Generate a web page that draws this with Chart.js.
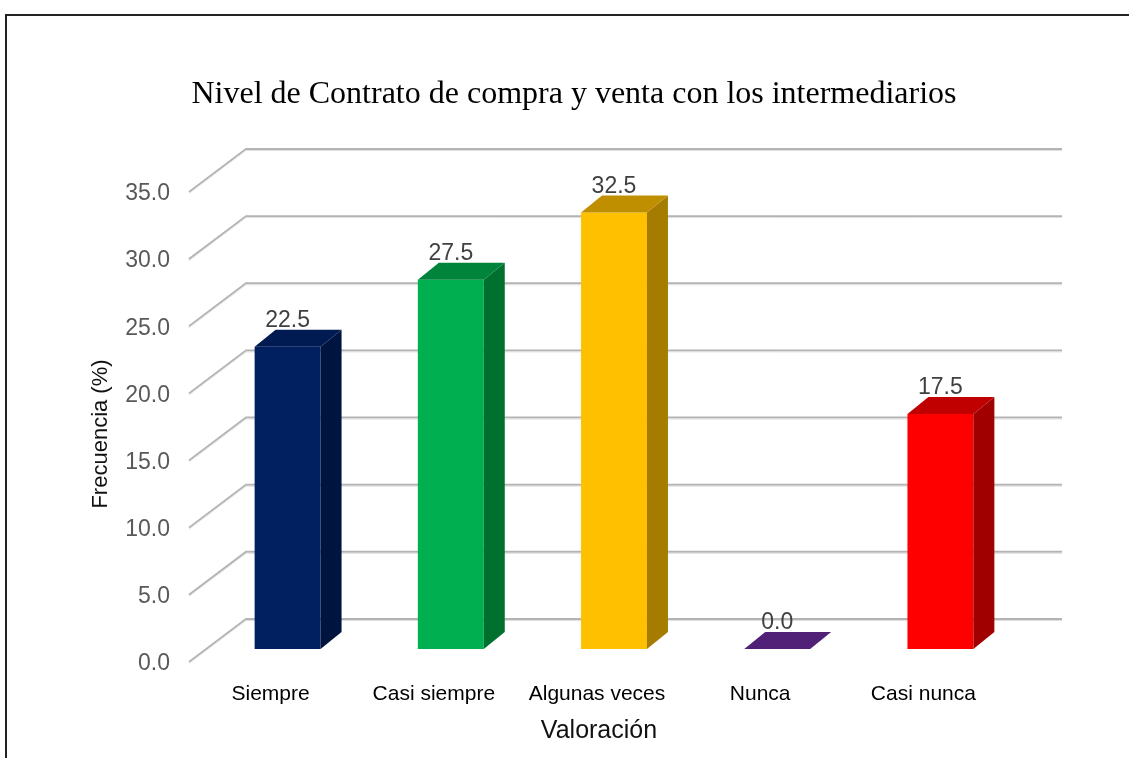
<!DOCTYPE html>
<html>
<head>
<meta charset="utf-8">
<script src="https://cdn.jsdelivr.net/npm/chart.js@4.4.1/dist/chart.umd.min.js"></script>
<style>
  body { margin: 0; background: #fff; }
  canvas { display: block; }
</style>
</head>
<body>
<canvas id="bar-chart" width="1129" height="758"></canvas>
<script>
var categorias = ["Siempre", "Casi siempre", "Algunas veces", "Nunca", "Casi nunca"];
var frecuencia = [22.5, 27.5, 32.5, 0.0, 17.5];
var yTicks = [0, 5, 10, 15, 20, 25, 30, 35];

var frente = ["#002060", "#00b050", "#ffc000", "#512178", "#ff0000"];
var lado   = ["#001440", "#00702f", "#a67c00", "#3a1657", "#a00000"];
var arriba = ["#001a52", "#00843b", "#c08f00", "#512178", "#c00000"];

// desplazamientos de la perspectiva
var DX = 17, DY = 13;      // plano frontal respecto al de las barras
var BX = 40, BY = 30;      // pared del fondo
var PX = 21, PY = 17;      // profundidad de cada barra

var sans = "'Liberation Sans', Arial, sans-serif";

var efecto3d = {
  id: 'efecto3d',
  beforeDatasetsDraw: function(chart) {
    var ctx = chart.ctx, y = chart.scales.y, a = chart.chartArea;
    ctx.save();
    yTicks.forEach(function(v) {
      var py = y.getPixelForValue(v);
      [[2, "#b4b4b4", 0], [1, "#e0e0e0", 1.5]].forEach(function(s) {
        ctx.lineWidth = s[0];
        ctx.strokeStyle = s[1];
        ctx.beginPath();
        ctx.moveTo(a.left - DX, py + DY + s[2]);
        ctx.lineTo(a.left + BX, py - BY + s[2]);
        ctx.lineTo(a.right + BX, py - BY + s[2]);
        ctx.stroke();
      });
    });
    ctx.restore();
  },
  afterDatasetsDraw: function(chart) {
    var ctx = chart.ctx;
    var meta = chart.getDatasetMeta(0);
    ctx.save();
    meta.data.forEach(function(bar, i) {
      var w = bar.width / 2;
      var x0 = bar.x - w, x1 = bar.x + w, top = bar.y, base = bar.base;
      // lado
      ctx.fillStyle = lado[i];
      ctx.beginPath();
      ctx.moveTo(x1, top);
      ctx.lineTo(x1 + PX, top - PY);
      ctx.lineTo(x1 + PX, base - PY);
      ctx.lineTo(x1, base);
      ctx.closePath();
      ctx.fill();
      // tapa
      ctx.fillStyle = arriba[i];
      ctx.beginPath();
      ctx.moveTo(x0, top);
      ctx.lineTo(x0 + PX, top - PY);
      ctx.lineTo(x1 + PX, top - PY);
      ctx.lineTo(x1, top);
      ctx.closePath();
      ctx.fill();
      // etiqueta de dato
      ctx.fillStyle = "#404040";
      ctx.font = "23px " + sans;
      ctx.textAlign = "center";
      ctx.textBaseline = "middle";
      ctx.fillText(frecuencia[i].toFixed(1), bar.x, top - 26);
    });
    ctx.restore();
  },
  afterDraw: function(chart) {
    var ctx = chart.ctx;
    ctx.save();
    // titulo
    ctx.fillStyle = "#000";
    ctx.font = "32px 'Liberation Serif', 'Times New Roman', serif";
    ctx.textAlign = "center";
    ctx.textBaseline = "alphabetic";
    ctx.fillText("Nivel de Contrato de compra y venta con los intermediarios", 574, 103);
    // titulo eje x
    ctx.font = "25px " + sans;
    ctx.fillStyle = "#111";
    ctx.textBaseline = "middle";
    ctx.fillText("Valoración", 599, 731);
    // titulo eje y
    ctx.translate(101, 434);
    ctx.rotate(-Math.PI / 2);
    ctx.font = "22px " + sans;
    ctx.fillText("Frecuencia (%)", 0, 0);
    ctx.restore();
    // marco
    ctx.save();
    ctx.strokeStyle = "#222";
    ctx.lineWidth = 2;
    ctx.beginPath();
    ctx.moveTo(6, 758);
    ctx.lineTo(6, 15);
    ctx.lineTo(1129, 15);
    ctx.stroke();
    ctx.restore();
  }
};

new Chart(document.getElementById("bar-chart"), {
  type: 'bar',
  data: {
    labels: categorias,
    datasets: [{
      data: frecuencia,
      backgroundColor: frente,
      borderWidth: 0,
      categoryPercentage: 1,
      barPercentage: 0.404
    }]
  },
  options: {
    responsive: false,
    animation: false,
    layout: { padding: { left: 86, right: 107, top: 179, bottom: 49 } },
    plugins: {
      legend: { display: false },
      title: { display: false },
      tooltip: { enabled: false }
    },
    scales: {
      x: {
        grid: { display: false, drawTicks: false },
        border: { display: false },
        ticks: { color: "#000", font: { family: sans, size: 21 }, padding: 33, labelOffset: -17, maxRotation: 0 },
        afterFit: function(s) { s.height = 60; }
      },
      y: {
        min: 0,
        max: 35,
        grid: { display: false, drawTicks: false },
        border: { display: false },
        ticks: {
          stepSize: 5,
          color: "#595959",
          font: { family: sans, size: 23 },
          padding: 36,
          labelOffset: 15,
          callback: function(v) { return v.toFixed(1); }
        },
        afterFit: function(s) { s.width = 120; }
      }
    }
  },
  plugins: [efecto3d]
});
</script>
</body>
</html>
